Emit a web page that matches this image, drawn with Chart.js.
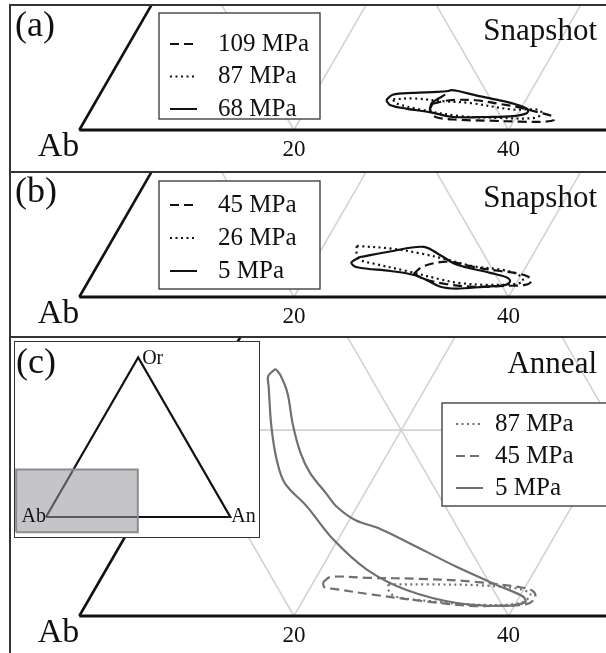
<!DOCTYPE html>
<html>
<head>
<meta charset="utf-8">
<title>Ab-An-Or feldspar compositions</title>
<script src="https://cdn.jsdelivr.net/npm/chart.js@4.4.1/dist/chart.umd.min.js"></script>
<style>
  body { margin: 0; background: #fff; }
  #fig { position: relative; width: 606px; height: 653px; overflow: hidden; }
  #fig canvas { position: absolute; }
  .rule { position: absolute; background: #333; }
  #insetBox { position: absolute; left: 14px; top: 341px; width: 244px; height: 195px;
              border: 1.5px solid #333; background: #fff; }
</style>
</head>
<body>
<div id="fig">
  <canvas id="panelA" width="595" height="165" style="left:11px;top:6px"></canvas>
  <canvas id="panelB" width="595" height="163" style="left:11px;top:173px"></canvas>
  <canvas id="panelC" width="595" height="315" style="left:11px;top:338px"></canvas>
  <div class="rule" style="left:9px;top:4px;width:600px;height:2px"></div>
  <div class="rule" style="left:9px;top:171px;width:600px;height:2px"></div>
  <div class="rule" style="left:9px;top:336px;width:600px;height:2px"></div>
  <div class="rule" style="left:9px;top:4px;width:2px;height:660px"></div>
  <div id="insetBox"><canvas id="inset" width="244" height="195" style="left:0;top:0"></canvas></div>
</div>
<script>
// compositions as [An, Or] in mol% (Ab is the remainder)
const tickLabels = [20, 40];
const gridSteps = [20, 40, 60, 80];

const labelsA = ['109 MPa', '87 MPa', '68 MPa'];
const labelsB = ['45 MPa', '26 MPa', '5 MPa'];
const labelsC = ['87 MPa', '45 MPa', '5 MPa'];

// (a) snapshot
const a109 = [[31.5,2.8],[32.9,3.2],[35.3,3.2],[37.8,2.8],[39.9,2.4],[41.8,1.9],[43.3,1.5],[43.7,1.1],
              [43.0,0.9],[40.6,0.9],[37.8,1.0],[34.9,1.1],[32.5,1.4],[31.6,2.2]];
const a87  = [[27.6,3.3],[29.4,3.4],[32.3,3.1],[35.0,2.9],[39.3,2.2],[41.6,2.2],[42.2,1.8],[41.8,1.3],
              [38.6,1.3],[34.7,1.5],[30.7,2.2],[28.0,2.9]];
const a68  = [[27.0,3.2],[27.3,3.8],[29.1,4.0],[31.3,4.1],[32.3,4.2],[32.5,4.3],[33.2,4.2],[35.2,3.7],
              [38.0,3.1],[39.8,2.6],[40.7,2.2],[40.8,1.8],[39.7,1.5],[37.3,1.4],[34.1,1.4],[31.8,1.9],
              [29.3,2.3],[27.6,2.7]];
const a68Inner = [[32.2,3.8],[31.4,2.9],[31.6,2.1]];

// (b) snapshot
const b45 = [[29.9,2.5],[30.4,3.3],[32.4,3.8],[35.3,3.2],[37.8,2.8],[39.3,2.6],[40.7,2.2],[41.3,1.7],
             [40.9,1.3],[39.1,1.2],[36.3,1.1],[33.4,1.4],[31.3,1.9]];
const b26 = [[23.1,5.5],[26.6,5.2],[29.4,4.7],[32.0,4.1],[35.1,3.3],[38.1,2.9],[39.9,2.3],[40.5,1.7],
             [39.9,1.4],[37.6,1.3],[34.7,1.5],[32.7,1.9],[29.1,2.8],[25.6,3.6],[24.2,4.0],[23.5,4.7]];
const b5  = [[24.0,4.3],[26.5,4.9],[29.4,5.4],[31.4,4.5],[33.4,3.5],[37.0,2.6],[38.8,2.1],[39.3,1.7],
             [39.1,1.3],[37.1,1.1],[34.7,0.9],[33.1,1.1],[31.5,1.8],[29.9,2.4],[27.6,2.8],[24.3,3.2],
             [23.5,3.7]];

// (c) anneal
const c87 = [[27.1,3.4],[31.0,3.4],[35.7,3.3],[39.6,2.9],[40.9,2.3],[40.4,1.4],[36.8,1.2],[31.9,1.6],
             [28.4,2.1],[27.4,2.8]];
const c45 = [[20.9,3.6],[21.3,4.2],[25.0,4.1],[29.7,4.0],[34.8,3.7],[39.5,3.1],[40.9,2.7],[41.5,2.0],
             [41.1,1.3],[38.6,1.1],[35.9,1.1],[31.3,1.6],[26.2,2.3],[22.4,2.9],[21.3,3.1]];
const c5  = [[5.0,26.6],[5.8,25.9],[7.4,24.0],[9.6,20.6],[11.8,17.6],[13.8,15.4],[16.4,13.2],[18.2,11.7],
             [20.6,10.3],[23.3,9.4],[26.5,8.0],[32.5,5.3],[37.6,3.2],[40.3,2.1],[40.8,1.5],[39.3,1.1],
             [34.5,1.4],[29.1,2.8],[24.3,5.0],[19.6,8.2],[15.3,11.8],[12.0,14.3],[10.0,16.8],[7.7,20.4],
             [5.3,24.7],[4.7,25.8]];

// part of the full triangle shown in the zoomed panels (x = An + Or/2, y = Or)
const insetWindowX = [-16.2, 49.8];
const insetWindowOr = [-9.5, 29.8];

// ---- geometry ----
const PX = 10.73;                    // px per mol% along the base
const PY = PX * Math.sqrt(3) / 2;    // equilateral height
const AB_X = 79.3;                   // page x of the Ab corner
const FONT = '"Liberation Serif", "Times New Roman", serif';
const DASH = [9, 5];
const DOT = [2, 3.5];

function toXY(pts) { return pts.map(([an, or]) => ({ x: an + or / 2, y: or })); }
function closed(pts) { return toXY(pts.concat([pts[0]])); }

function line(data, color, width, extra) {
  return Object.assign({ data, borderColor: color, borderWidth: width, showLine: true,
                         pointRadius: 0, fill: false, tension: 0 }, extra || {});
}

function contour(label, pts, dash, color) {
  return line(closed(pts), color, 2.2, { label, borderDash: dash, tension: 0.35 });
}

function frameSets() {
  const sets = [
    line(toXY([[0, 0], [0, 100]]), '#111', 2.6),
    line(toXY([[0, 0], [100, 0]]), '#111', 2.8)
  ];
  gridSteps.forEach(v => {
    sets.push(line(toXY([[v, 0], [v, 100 - v]]), '#d3d3d3', 1.6));   // An = const
    sets.push(line(toXY([[v, 0], [0, v]]), '#d3d3d3', 1.6));         // Ab = const
    sets.push(line(toXY([[0, v], [100 - v, v]]), '#d3d3d3', 1.6));   // Or = const
  });
  return sets;
}

const panelDecor = {
  id: 'panelDecor',
  afterDatasetsDraw(chart, args, o) {
    const { ctx } = chart;
    const { x, y } = chart.scales;
    ctx.save();
    ctx.fillStyle = '#111';

    // base ticks and the Ab corner
    const by = y.getPixelForValue(0) + 26;
    ctx.textBaseline = 'alphabetic';
    ctx.textAlign = 'center';
    ctx.font = '23px ' + FONT;
    tickLabels.forEach(t => ctx.fillText(String(t), x.getPixelForValue(t), by));
    ctx.textAlign = 'right';
    ctx.font = '34px ' + FONT;
    ctx.fillText('Ab', x.getPixelForValue(0), by);

    ctx.font = '31px ' + FONT;
    ctx.fillText(o.title, 586, o.titleY);

    if (o.tag) {
      ctx.textAlign = 'left';
      ctx.textBaseline = 'middle';
      ctx.font = '36px ' + FONT;
      ctx.fillText(o.tag, 4, o.tagY);
    }

    // legend box
    const L = o.legend;
    ctx.fillStyle = '#fff';
    ctx.fillRect(L.x, L.y, L.w, L.h);
    ctx.strokeStyle = '#333';
    ctx.lineWidth = 1.3;
    ctx.strokeRect(L.x, L.y, L.w, L.h);
    ctx.textAlign = 'left';
    ctx.textBaseline = 'middle';
    ctx.font = '25px ' + FONT;
    chart.data.datasets.filter(d => d.label).forEach((d, i) => {
      const cy = L.y + L.first + i * L.step;
      ctx.strokeStyle = d.borderColor;
      ctx.lineWidth = 2;
      ctx.setLineDash(d.borderDash || []);
      ctx.beginPath();
      ctx.moveTo(L.lineX, cy);
      ctx.lineTo(L.lineX + 27, cy);
      ctx.stroke();
      ctx.setLineDash([]);
      ctx.fillStyle = '#111';
      ctx.fillText(d.label, L.textX, cy);
    });
    ctx.restore();
  }
};

function panelChart(id, box, baseY, datasets, decor) {
  return new Chart(document.getElementById(id), {
    type: 'scatter',
    data: { datasets: datasets.concat(frameSets()) },
    options: {
      responsive: false,
      animation: false,
      events: [],
      layout: { padding: 0 },
      plugins: { legend: { display: false }, tooltip: { enabled: false }, panelDecor: decor },
      scales: {
        x: { type: 'linear', display: false,
             min: (box.left - AB_X) / PX, max: (box.left + box.width - AB_X) / PX },
        y: { type: 'linear', display: false,
             min: (baseY - box.top - box.height) / PY, max: (baseY - box.top) / PY }
      }
    },
    plugins: [panelDecor]
  });
}

panelChart('panelA', { left: 11, top: 6, width: 595, height: 165 }, 130, [
  contour(labelsA[0], a109, DASH, '#111'),
  contour(labelsA[1], a87, DOT, '#111'),
  contour(labelsA[2], a68, [], '#111'),
  line(toXY(a68Inner), '#111', 2.2, { tension: 0.3 })
], { tag: '(a)', tagY: 21, title: 'Snapshot', titleY: 34,
     legend: { x: 148, y: 7, w: 161, h: 106, first: 31, step: 32.5, lineX: 159, textX: 207 } });

panelChart('panelB', { left: 11, top: 173, width: 595, height: 163 }, 297, [
  contour(labelsB[0], b45, DASH, '#111'),
  contour(labelsB[1], b26, DOT, '#111'),
  contour(labelsB[2], b5, [], '#111')
], { tag: '(b)', tagY: 20, title: 'Snapshot', titleY: 34,
     legend: { x: 148, y: 8, w: 161, h: 108, first: 24, step: 33, lineX: 159, textX: 207 } });

panelChart('panelC', { left: 11, top: 338, width: 595, height: 315 }, 616, [
  contour(labelsC[0], c87, DOT, '#707070'),
  contour(labelsC[1], c45, DASH, '#707070'),
  contour(labelsC[2], c5, [], '#707070')
], { tag: null, title: 'Anneal', titleY: 35,
     legend: { x: 431, y: 65, w: 180, h: 103, first: 21, step: 32, lineX: 445, textX: 484 } });

// inset: whole triangle with the zoomed window shaded
const INSET_PX = 1.843;
const INSET_PY = INSET_PX * Math.sqrt(3) / 2;
const INSET_AB = { x: 31, y: 175 };

const insetLabels = {
  id: 'insetLabels',
  afterDatasetsDraw(chart) {
    const { ctx } = chart;
    const { x, y } = chart.scales;
    ctx.save();
    ctx.fillStyle = '#111';
    ctx.textBaseline = 'middle';
    ctx.font = '20px ' + FONT;
    ctx.textAlign = 'left';
    ctx.fillText('Or', x.getPixelForValue(50) + 4, y.getPixelForValue(100) + 1);
    ctx.fillText('An', x.getPixelForValue(100) + 1, y.getPixelForValue(0));
    ctx.textAlign = 'right';
    ctx.fillText('Ab', x.getPixelForValue(0), y.getPixelForValue(0));
    ctx.textAlign = 'left';
    ctx.font = '36px ' + FONT;
    ctx.fillText('(c)', 1, 22);
    ctx.restore();
  }
};

new Chart(document.getElementById('inset'), {
  type: 'scatter',
  data: {
    datasets: [
      line([
        { x: insetWindowX[0], y: insetWindowOr[0] }, { x: insetWindowX[1], y: insetWindowOr[0] },
        { x: insetWindowX[1], y: insetWindowOr[1] }, { x: insetWindowX[0], y: insetWindowOr[1] },
        { x: insetWindowX[0], y: insetWindowOr[0] }
      ], '#8c8c8c', 2, { fill: 'shape', backgroundColor: 'rgba(150,150,156,0.55)' }),
      line(closed([[0, 0], [100, 0], [0, 100]]), '#111', 2.2)
    ]
  },
  options: {
    responsive: false,
    animation: false,
    events: [],
    layout: { padding: 0 },
    plugins: { legend: { display: false }, tooltip: { enabled: false } },
    scales: {
      x: { type: 'linear', display: false,
           min: -INSET_AB.x / INSET_PX, max: (244 - INSET_AB.x) / INSET_PX },
      y: { type: 'linear', display: false,
           min: (INSET_AB.y - 195) / INSET_PY, max: INSET_AB.y / INSET_PY }
    }
  },
  plugins: [insetLabels]
});
</script>
</body>
</html>
